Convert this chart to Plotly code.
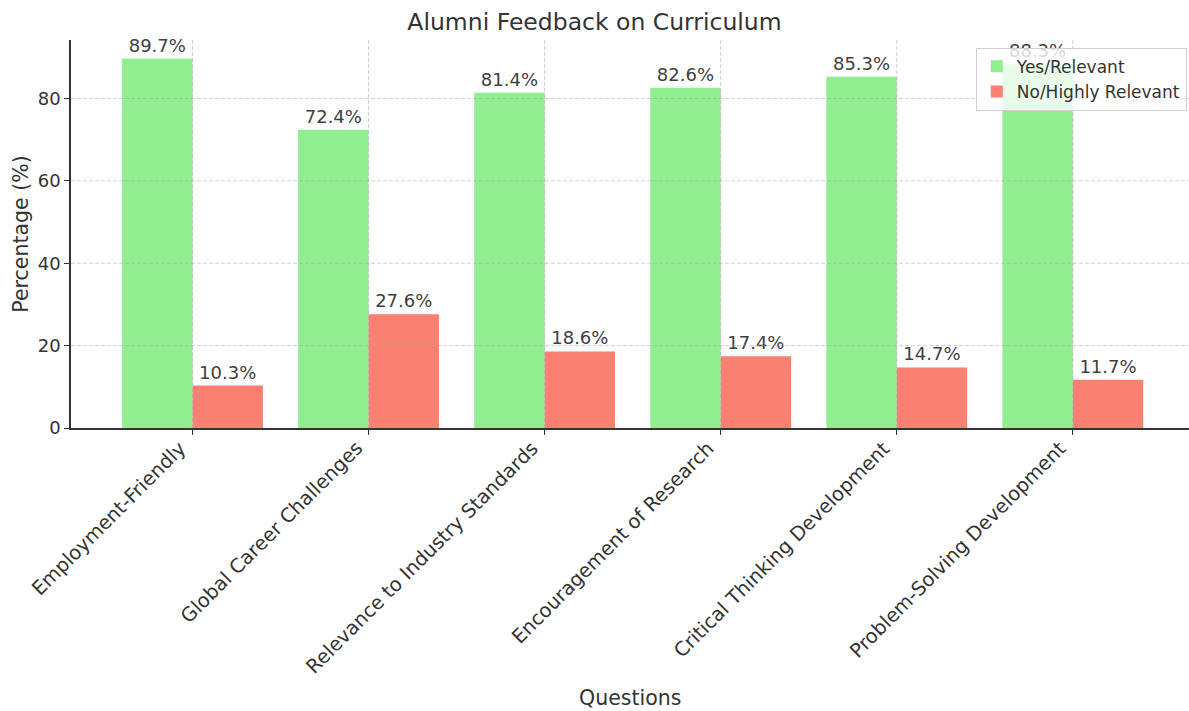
import plotly.graph_objects as go

questions = ["Employment-Friendly", "Global Career Challenges", "Relevance to Industry Standards",
             "Encouragement of Research", "Critical Thinking Development", "Problem-Solving Development"]
yes_relevant = [89.7, 72.4, 81.4, 82.6, 85.3, 88.3]
no_highly = [10.3, 27.6, 18.6, 17.4, 14.7, 11.7]
y_ticks = [0, 20, 40, 60, 80]

FONT = "DejaVu Sans"
TXT = "#333333"
fig = go.Figure()
fig.add_trace(go.Bar(x=questions, y=yes_relevant, name="Yes/Relevant", marker_color="#90EE90",
                     marker_line_width=0, text=[f"{v:.1f}%" for v in yes_relevant],
                     textposition="outside", cliponaxis=False,
                     textfont=dict(size=18, color="#404040", family=FONT)))
fig.add_trace(go.Bar(x=questions, y=no_highly, name="No/Highly Relevant", marker_color="#FA8072",
                     marker_line_width=0, text=[f"{v:.1f}%" for v in no_highly],
                     textposition="outside", cliponaxis=False,
                     textfont=dict(size=18, color="#404040", family=FONT)))

grid_style = dict(color="rgba(170,170,170,0.55)", width=1, dash="4px,2px")
shapes = []
for v in y_ticks[1:]:
    shapes.append(dict(type="line", xref="paper", yref="y", x0=0, x1=1, y0=v, y1=v,
                       line=grid_style, layer="above"))
for q in questions:
    shapes.append(dict(type="line", xref="x", yref="paper", x0=q, x1=q, y0=0, y1=1,
                       line=grid_style, layer="above"))

annotations = []
for q in questions:
    annotations.append(dict(x=q, y=0, xref="x", yref="y", text=q, showarrow=False,
                            textangle=-45, xanchor="right", yanchor="top", yshift=-6, xshift=1,
                            font=dict(size=19.5, color=TXT, family=FONT)))
annotations.append(dict(x=0.5, y=-0.696, xref="paper", yref="paper", text="Questions", showarrow=False,
                        xanchor="center", yanchor="middle", font=dict(size=20.5, color=TXT, family=FONT)))

fig.update_layout(
    width=1189, height=711,
    margin=dict(l=71, r=0, t=40, b=283, autoexpand=False),
    paper_bgcolor="white", plot_bgcolor="white",
    barmode="group", bargap=0.2, bargroupgap=0,
    font=dict(family=FONT, color=TXT),
    title=dict(text="Alumni Feedback on Curriculum", x=0.5, xanchor="center", y=0.969, yanchor="middle",
               font=dict(size=23.5, color=TXT, family=FONT)),
    legend=dict(x=0.998, y=0.98, xanchor="right", yanchor="top",
                bgcolor="rgba(255,255,255,0.8)", bordercolor="#d0d0d0", borderwidth=1,
                font=dict(size=17, color=TXT, family=FONT), tracegroupgap=4),
    shapes=shapes,
    annotations=annotations,
)
fig.update_xaxes(
    range=[-0.69, 5.66], showline=True, linecolor="#333333", linewidth=1.5,
    ticks="outside", ticklen=5, tickcolor="#333333", showticklabels=False,
    showgrid=False, automargin=False,
)
fig.update_yaxes(
    range=[0, 94.2], showline=True, linecolor="#333333", linewidth=1.5,
    ticks="outside", ticklen=5, tickcolor="#333333", tickvals=y_ticks,
    tickfont=dict(size=18, color=TXT, family=FONT),
    showgrid=False, zeroline=False, automargin=False,
    title=dict(text="Percentage (%)", font=dict(size=20.5, color=TXT, family=FONT), standoff=4),
)
fig.write_html("out.html", config={"displayModeBar": False},
               post_script="document.body.style.margin='0';document.body.style.padding='0';")
